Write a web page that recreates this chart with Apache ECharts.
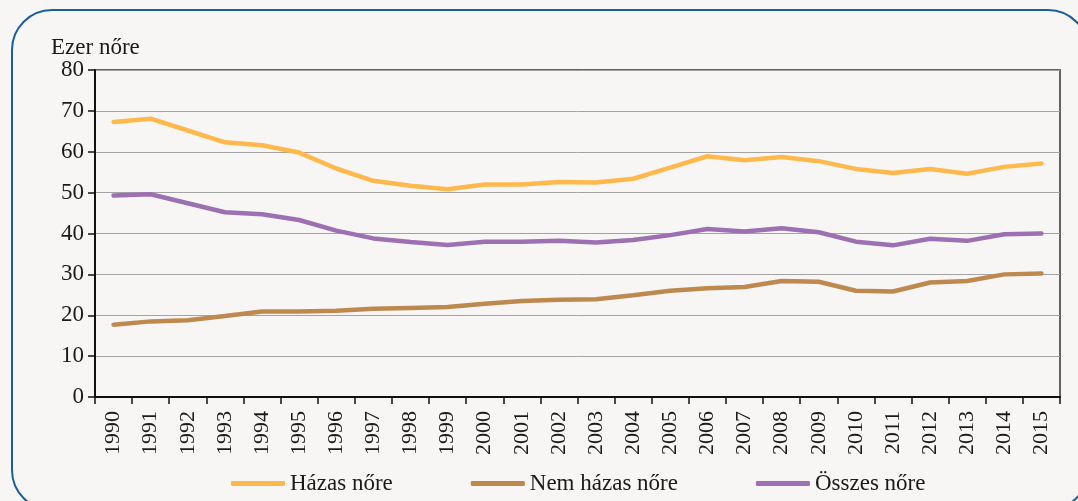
<!DOCTYPE html>
<html>
<head>
<meta charset="utf-8">
<script src="https://cdn.jsdelivr.net/npm/echarts@6/dist/echarts.min.js"></script>
<style>
  html, body { margin: 0; padding: 0; background: #f7f6f4; }
  #chart { width: 1078px; height: 501px; }
</style>
</head>
<body>
<div id="chart"></div>
<script>
// évek
const years = ["1990", "1991", "1992", "1993", "1994", "1995", "1996", "1997", "1998", "1999",
  "2000", "2001", "2002", "2003", "2004", "2005", "2006", "2007", "2008", "2009",
  "2010", "2011", "2012", "2013", "2014", "2015"];

// ezer nőre jutó értékek
const hazas = [67.3, 68.1, 65.2, 62.3, 61.6, 59.8, 55.9, 52.9, 51.7, 50.8,
  52.0, 52.0, 52.6, 52.5, 53.4, 56.1, 58.9, 57.9, 58.7, 57.7,
  55.8, 54.8, 55.8, 54.6, 56.3, 57.1];
const nemHazas = [17.7, 18.5, 18.8, 19.8, 20.9, 20.9, 21.1, 21.6, 21.8, 22.0,
  22.8, 23.5, 23.8, 23.9, 24.9, 26.0, 26.6, 26.9, 28.4, 28.2,
  26.0, 25.8, 28.0, 28.4, 30.0, 30.2];
const osszes = [49.3, 49.6, 47.4, 45.2, 44.7, 43.3, 40.7, 38.8, 37.9, 37.2,
  38.0, 38.0, 38.2, 37.8, 38.4, 39.6, 41.1, 40.5, 41.3, 40.3,
  38.0, 37.1, 38.7, 38.2, 39.8, 40.0];

const font = "'Liberation Serif', 'DejaVu Serif', serif";

let mychart = echarts.init(document.getElementById("chart"));
mychart.setOption({
  backgroundColor: "#f7f6f4",
  animation: false,
  textStyle: { fontFamily: font },
  graphic: [
    {
      // kék keret
      type: "rect",
      shape: { x: 12, y: 10, width: 1076, height: 500, r: 40 },
      style: { fill: "none", stroke: "#1b5e9f", lineWidth: 2 },
      z: -1
    }
  ],
  title: {
    text: "Ezer nőre",
    left: 46,
    top: 31,
    textStyle: { fontFamily: font, fontSize: 23, fontWeight: "normal", color: "#1a1a1a" }
  },
  grid: {
    left: 95,
    right: 18,
    top: 70,
    bottom: 104,
    show: true,
    borderColor: "#333",
    borderWidth: 1.5,
    backgroundColor: "transparent"
  },
  xAxis: {
    type: "category",
    data: years,
    boundaryGap: true,
    axisLine: { lineStyle: { color: "#111", width: 2 } },
    axisTick: { show: true, length: 7, interval: 0, lineStyle: { color: "#111", width: 1.5 } },
    axisLabel: {
      rotate: 90,
      interval: 0,
      margin: 14,
      fontFamily: font,
      fontSize: 22,
      color: "#1a1a1a"
    }
  },
  yAxis: {
    type: "value",
    min: 0,
    max: 80,
    interval: 10,
    axisLine: { show: true, lineStyle: { color: "#111", width: 2 } },
    axisTick: { show: true, length: 7, lineStyle: { color: "#111", width: 1.5 } },
    axisLabel: { fontFamily: font, fontSize: 23, color: "#1a1a1a", margin: 11 },
    splitLine: { lineStyle: { color: "#a3a3a3", width: 1 } }
  },
  legend: {
    top: 467,
    left: 226,
    itemWidth: 54,
    itemHeight: 5,
    itemGap: 78,
    icon: "roundRect",
    textStyle: { fontFamily: font, fontSize: 23, color: "#1a1a1a" },
    data: ["Házas nőre", "Nem házas nőre", "Összes nőre"]
  },
  series: [
    {
      name: "Házas nőre",
      type: "line",
      data: hazas,
      symbol: "none",
      color: "#ffb84c",
      lineStyle: { width: 4.5, cap: "round" }
    },
    {
      name: "Nem házas nőre",
      type: "line",
      data: nemHazas,
      symbol: "none",
      color: "#be894e",
      lineStyle: { width: 4.5, cap: "round" }
    },
    {
      name: "Összes nőre",
      type: "line",
      data: osszes,
      symbol: "none",
      color: "#9c70b2",
      lineStyle: { width: 4.5, cap: "round" }
    }
  ]
});
window.addEventListener("resize", () => {
  mychart.resize();
});
</script>
</body>
</html>
